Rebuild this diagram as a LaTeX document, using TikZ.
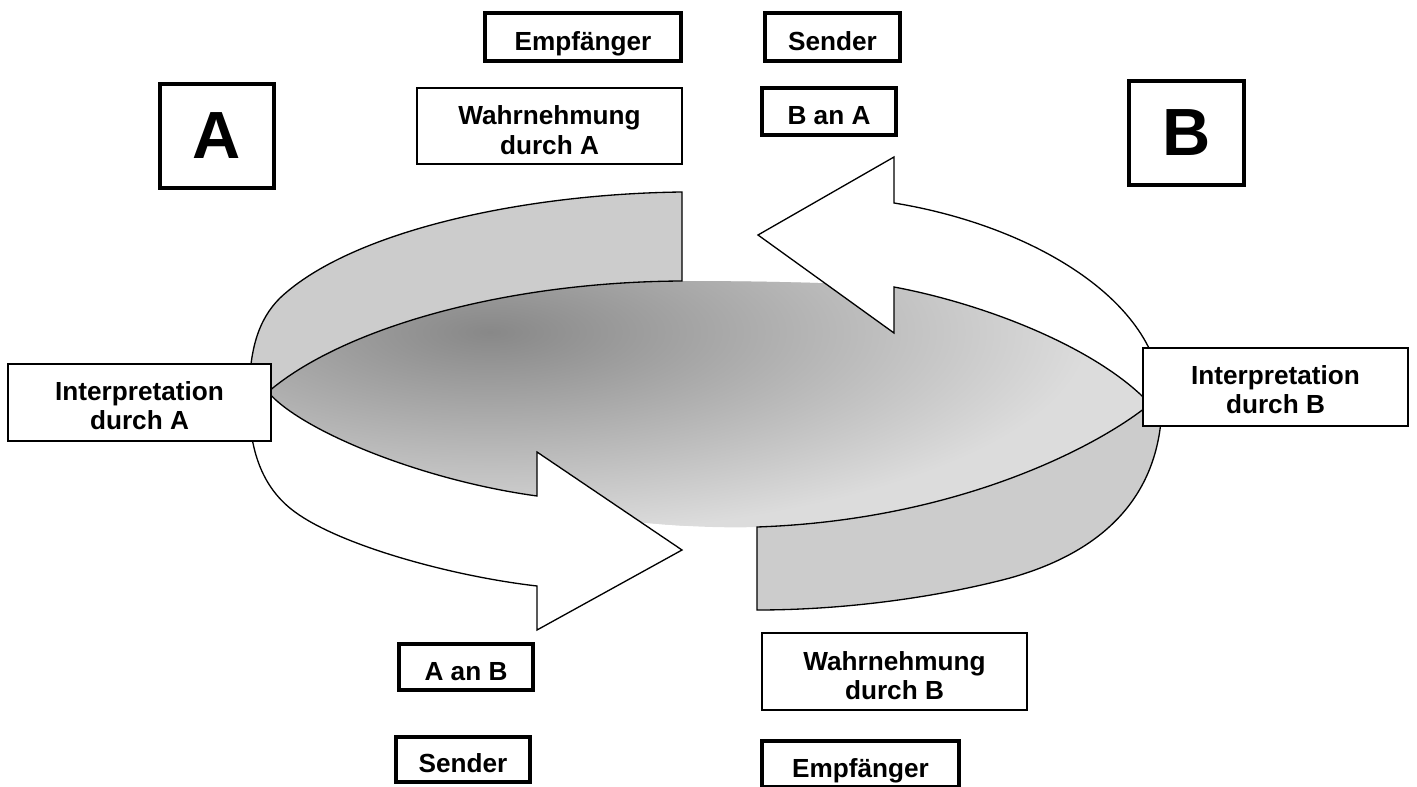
\documentclass[tikz,border=0pt]{standalone}
\usepackage{fontspec}
\setmainfont{Liberation Sans}
\definecolor{bandgray}{HTML}{CCCCCC}
\definecolor{diskdark}{HTML}{888888}
\definecolor{disklight}{HTML}{DCDCDC}
\begin{document}
\begin{tikzpicture}[x=0.02cm,y=-0.02cm,
  shapeline/.style={draw=black, line width=0.75pt, line join=miter},
  bandface/.style={shapeline, fill=bandgray},
  arrowface/.style={shapeline, fill=white},
  labelfont/.style={font=\fontsize{14.9}{16.6}\selectfont\bfseries},
  thickbox/.style={draw, line width=2.27pt, fill=white, inner sep=0pt, labelfont, text height=15.2pt, text depth=0pt},
  thinbox/.style={draw, line width=1.13pt, fill=white, inner sep=0pt, labelfont, align=center},
  bigbox/.style={draw, line width=2.27pt, fill=white, inner sep=0pt, font=\fontsize{38}{40}\selectfont\bfseries},
]
\clip (0,0) rectangle (1417,787);

% disk with gradient
\begin{scope}
  \clip (268,392) .. controls (340,330) and (500,282) .. (682,281)
        .. controls (760,281) and (850,283) .. (894,287)
        .. controls (990,305) and (1100,350) .. (1150,404)
        .. controls (1100,445) and (960,520) .. (757,527)
        .. controls (600,532) and (320,480) .. (268,392) -- cycle;
  \fill[disklight] (200,250) rectangle (1200,560);
  \shade[inner color=diskdark, outer color=disklight] (490,332) ellipse (600 and 205);
\end{scope}

% upper left gray band
\draw[bandface] (682,192) -- (682,281)
  .. controls (500,282) and (340,330) .. (268,392) -- (249,400)
  .. controls (249,350) and (258,320) .. (280,298)
  .. controls (350,232) and (520,194) .. (682,192) -- cycle;

% lower right gray band
\draw[bandface] (757,527) -- (757,610)
  .. controls (850,610) and (942,596) .. (1010,578)
  .. controls (1110,550) and (1162,490) .. (1162,400) -- (1150,404)
  .. controls (1100,445) and (960,520) .. (757,527) -- cycle;

% lower left white arrow
\draw[arrowface] (268,392) .. controls (300,430) and (420,480) .. (537,496)
  -- (537,452) -- (682,550) -- (537,630) -- (537,586)
  .. controls (450,576) and (340,545) .. (295,512)
  .. controls (262,488) and (249,450) .. (249,400) -- cycle;

% upper right white arrow
\draw[arrowface] (758,235) -- (894,157) -- (894,203)
  .. controls (1030,225) and (1160,300) .. (1162,400) -- (1150,404)
  .. controls (1100,350) and (990,305) .. (894,287) -- (894,333) -- cycle;

% boxes
\node[thickbox, minimum width=3.92cm, minimum height=0.96cm] (emp1) at (583,37) {Empfänger};
\node[thickbox, minimum width=2.70cm, minimum height=0.96cm] (send1) at (832.5,37) {Sender};
\node[bigbox, minimum width=2.28cm, minimum height=2.08cm] (boxA) at (217,136) {A};
\node[thinbox, minimum width=5.30cm, minimum height=1.52cm] (wahrA) at (549.5,126) {\rule{0pt}{15.5pt}Wahrnehmung\\durch A};
\node[thickbox, minimum width=2.68cm, minimum height=0.94cm] (banA) at (829,111.5) {B an A};
\node[bigbox, minimum width=2.30cm, minimum height=2.08cm] (boxB) at (1186.5,133) {B};
\node[thinbox, minimum width=5.26cm, minimum height=1.54cm] (interpA) at (139.5,402.5) {\rule{0pt}{14pt}Interpretation\\durch A};
\node[thinbox, minimum width=5.30cm, minimum height=1.56cm] (interpB) at (1275.5,387) {\rule{0pt}{14pt}Interpretation\\durch B};
\node[thickbox, minimum width=2.68cm, minimum height=0.92cm] (aanB) at (466,667) {A an B};
\node[thinbox, minimum width=5.30cm, minimum height=1.54cm] (wahrB) at (894.5,671.5) {\rule{0pt}{15.5pt}Wahrnehmung\\durch B};
\node[thickbox, minimum width=2.68cm, minimum height=0.90cm] (send2) at (463,759.5) {Sender};
\node[thickbox, minimum width=3.94cm, minimum height=0.92cm] (emp2) at (860.5,764) {Empfänger};
\end{tikzpicture}
\end{document}
